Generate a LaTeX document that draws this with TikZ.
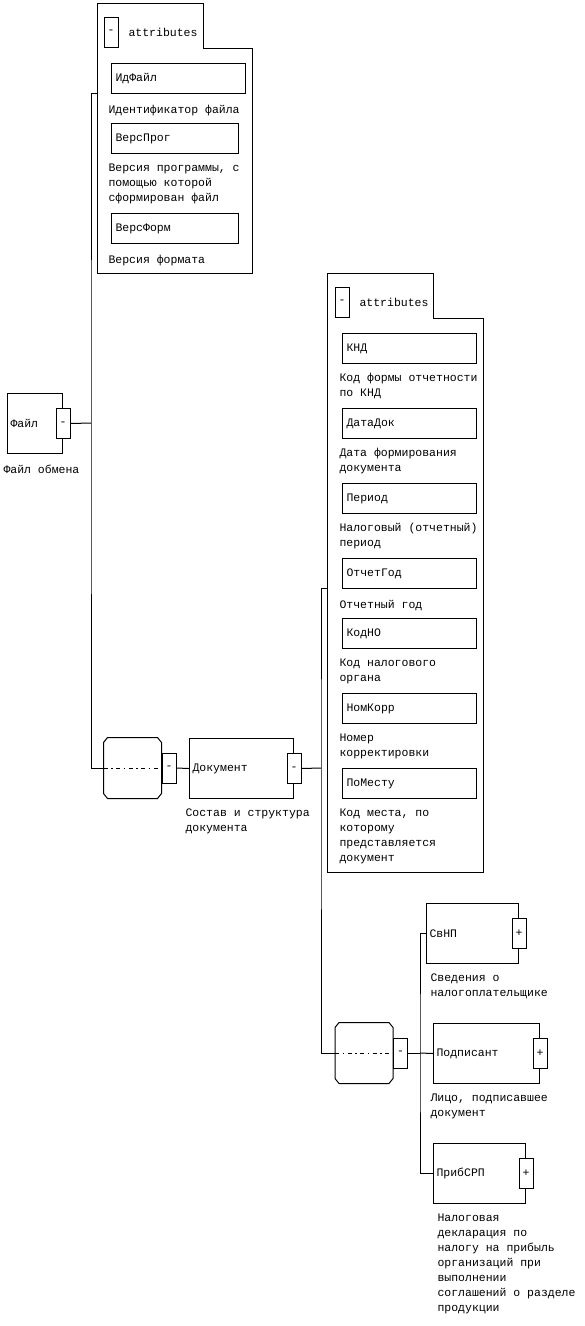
\documentclass[tikz,border=0pt]{standalone}
\usepackage{fontspec}
\setmainfont{Liberation Mono}
\usetikzlibrary{positioning}

\begin{document}
\begin{tikzpicture}[
  x=1pt, y=-1pt,
  line width=1pt,
  every node/.style={font=\fontsize{11.5}{15}\selectfont},
  elemen/.style={
    rectangle, draw=black, anchor=north west,
    minimum height=60pt, inner xsep=3pt, inner ysep=0pt,
    text width=#1, align=left
  },
  atribut/.style={
    rectangle, draw=black, anchor=north west,
    minimum height=30pt, inner xsep=4pt, inner ysep=0pt,
    text width=#1, align=left
  },
  atribut/.default=126pt,
  keterangan/.style={
    anchor=north west, inner sep=0pt, align=left, yshift=-2pt,
    execute at begin node={\rule{0pt}{10pt}}
  },
  tombol/.style={
    rectangle, draw=black, fill=white,
    minimum width=14pt, minimum height=30pt, inner sep=0pt
  },
  urutan/.style={
    rectangle, minimum width=57pt, minimum height=60pt, inner sep=0pt
  },
  titik/.style={dash pattern=on 4pt off 3.5pt on 1.5pt off 3.5pt}
]
\useasboundingbox (0,0) rectangle (584,1326);

% attributes of Файл
\draw (97,273) -- (97,3) -- (203,3) -- (203,48) -- (252,48) -- (252,273) -- cycle;
\node[tombol] (atrATg) at (111,32) {-};
\node[anchor=west, inner sep=0pt] (atrAJudul) at (128,32) {attributes};
\coordinate (atrAMasuk) at (97,93);

\node[atribut]       (idFajl)   at (111,63)  {ИдФайл};
\node[keterangan]    (ketIdFajl) at (108,101) {Идентификатор файла};
\node[atribut=119pt] (versProg) at (111,123) {ВерсПрог};
\node[keterangan]    (ketVersProg) at (108,161) {Версия программы, с\\помощью которой\\сформирован файл};
\node[atribut=119pt] (versForm) at (111,213) {ВерсФорм};
\node[keterangan]    (ketVersForm) at (108,251) {Версия формата};

% root
\node[elemen=49pt] (fajl) at (7,393) {Файл};
\node[tombol]      (fajlTg) at (fajl.east) {-};
\node[keterangan]  (ketFajl) at (3,461) {Файл обмена};
\coordinate (garpuA) at (91,423);

\node[urutan] (urutA) at (132.5,768) {};
\node[tombol, right=0pt of urutA] (urutATg) {-};

\node[elemen=98pt] (dokumen) at (189,738) {Документ};
\node[tombol]      (dokumenTg) at (dokumen.east) {-};
\node[keterangan]  (ketDokumen) at (185,806) {Состав и структура\\документа};
\coordinate (garpuB) at (321,768);

% attributes of Документ
\draw (327,872) -- (327,273) -- (433,273) -- (433,318) -- (483,318) -- (483,872) -- cycle;
\node[tombol] (atrBTg) at (342,302) {-};
\node[anchor=west, inner sep=0pt] (atrBJudul) at (359,302) {attributes};
\coordinate (atrBMasuk) at (327,588);

\node[atribut]    (knd)      at (342,333) {КНД};
\node[keterangan] (ketKnd)   at (339,371) {Код формы отчетности\\по КНД};
\node[atribut]    (dataDok)  at (342,408) {ДатаДок};
\node[keterangan] (ketDataDok) at (339,446) {Дата формирования\\документа};
\node[atribut]    (period)   at (342,483) {Период};
\node[keterangan] (ketPeriod) at (339,521) {Налоговый (отчетный)\\период};
\node[atribut]    (otchetGod) at (342,558) {ОтчетГод};
\node[keterangan] (ketOtchetGod) at (339,596) {Отчетный год};
\node[atribut]    (kodNO)    at (342,618) {КодНО};
\node[keterangan] (ketKodNO) at (339,656) {Код налогового\\органа};
\node[atribut]    (nomKorr)  at (342,693) {НомКорр};
\node[keterangan] (ketNomKorr) at (339,731) {Номер\\корректировки};
\node[atribut]    (poMestu)  at (342,768) {ПоМесту};
\node[keterangan] (ketPoMestu) at (339,806) {Код места, по\\которому\\представляется\\документ};

% children of Документ
\node[urutan] (urutB) at (364,1053) {};
\node[tombol, right=0pt of urutB] (urutBTg) {-};
\coordinate (garpuC) at (420,1053);

\node[elemen=86pt] (svNP) at (426,903) {СвНП};
\node[tombol]      (svNPTg) at (svNP.east) {+};
\node[keterangan]  (ketSvNP) at (430,971) {Сведения о\\налогоплательщике};

\node[elemen=100pt] (podpisant) at (433,1023) {Подписант};
\node[tombol]       (podpisantTg) at (podpisant.east) {+};
\node[keterangan]   (ketPodpisant) at (430,1091) {Лицо, подписавшее\\документ};

\node[elemen=86pt] (pribSRP) at (433,1143) {ПрибСРП};
\node[tombol]      (pribSRPTg) at (pribSRP.east) {+};
\node[keterangan]  (ketPribSRP) at (437,1211) {Налоговая\\декларация по\\налогу на прибыль\\организаций при\\выполнении\\соглашений о разделе\\продукции};

% sequence outlines
\foreach \u in {urutA, urutB} {
  \draw ([xshift=4pt]\u.north west) -- ([xshift=-4pt]\u.north east)
    -- ([yshift=-5pt]\u.north east) -- ([yshift=5pt]\u.south east)
    -- ([xshift=-4pt]\u.south east) -- ([xshift=4pt]\u.south west)
    -- ([yshift=5pt]\u.south west) -- ([yshift=-5pt]\u.north west) -- cycle;
  \draw[titik] (\u.west) -- (\u.east);
}

% connectors
\draw (fajlTg.east) -- (garpuA);
\draw (atrAMasuk) -| (garpuA) |- (urutA.west);
\draw (urutATg.east) -- (dokumen.west);
\draw (dokumenTg.east) -- (garpuB);
\draw (atrBMasuk) -| (garpuB) |- (urutB.west);
\draw (urutBTg.east) -- (garpuC);
\draw (svNP.west) -| (garpuC) |- (pribSRP.west);
\draw (garpuC) -- (podpisant.west);

\end{tikzpicture}
\end{document}
